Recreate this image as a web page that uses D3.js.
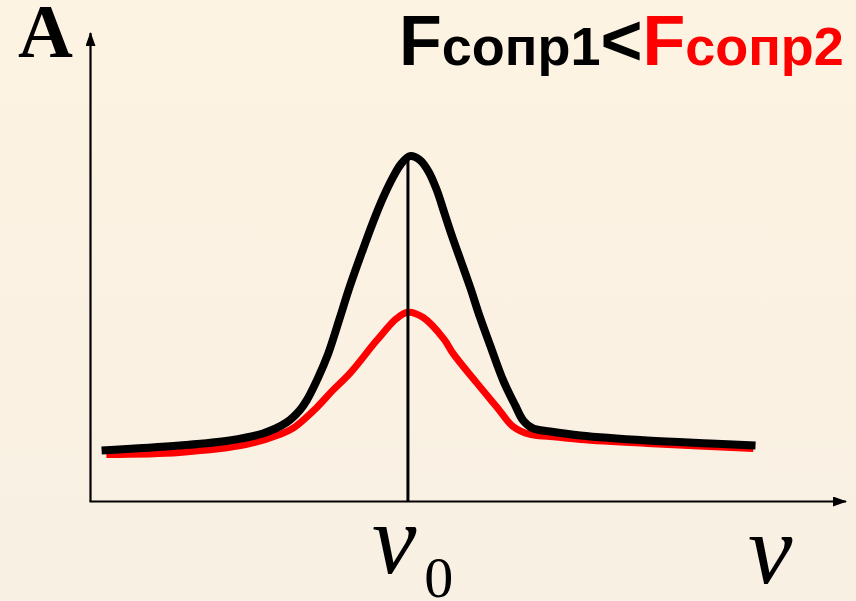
<!DOCTYPE html>
<html>
  <head>
    <meta charset="utf-8">
    <title>Resonance curves</title>
    <script src="https://cdn.jsdelivr.net/npm/d3@7"></script>
    <style>
      html, body { margin: 0; padding: 0; background: #fbf2e2; }
      svg { display: block; }
      .axis { stroke: #000; stroke-width: 2.2; fill: none; }
      .curve { fill: none; stroke-linejoin: round; stroke-linecap: butt; }
      .serif { font-family: "Liberation Serif", "Times New Roman", serif; }
      .sans { font-family: "Liberation Sans", Arial, sans-serif; font-weight: bold; }
    </style>
  </head>
  <body>
    <svg id="chart" width="856" height="601"></svg>

    <script>
      // data: frequency (nu / nu0) and amplitude
      nuLow = [0.035, 0.281, 0.438, 0.543, 0.618, 0.659, 0.681, 0.716, 0.748, 0.785, 0.817, 0.855, 0.890, 0.921, 0.953, 0.978, 1.006,
        1.038, 1.066, 1.091, 1.114, 1.139, 1.167, 1.196, 1.227, 1.259, 1.300, 1.338, 1.363, 1.394, 1.448, 1.543, 1.754, 1.953, 2.095];
      ampLow = [0.51, 0.56, 0.61, 0.68, 0.79, 0.91, 1.01, 1.23, 1.47, 1.83, 2.15, 2.49, 2.79, 3.03, 3.24, 3.37, 3.45,
        3.41, 3.29, 3.11, 2.89, 2.65, 2.40, 2.14, 1.84, 1.56, 1.21, 0.96, 0.81, 0.73, 0.70, 0.66, 0.61, 0.58, 0.56];

      nuHigh = [0.050, 0.281, 0.492, 0.596, 0.637, 0.713, 0.763, 0.817, 0.902, 0.965, 1.0, 1.047, 1.114, 1.142,
        1.218, 1.281, 1.331, 1.385, 1.448, 1.543, 1.754, 2.088];
      ampHigh = [0.47, 0.49, 0.57, 0.67, 0.73, 0.94, 1.11, 1.28, 1.61, 1.83, 1.89, 1.84, 1.62, 1.48,
        1.18, 0.94, 0.75, 0.67, 0.65, 0.62, 0.58, 0.53];

      nu0 = 1;
      xMax = 2.38;
      yMax = 4.68;

      chart = d3.select("#chart");
      width = 856;
      height = 601;

      // background
      defs = chart.append("defs");
      grad = defs.append("linearGradient")
        .attr("id", "bg")
        .attr("x1", 0).attr("y1", 0)
        .attr("x2", 0).attr("y2", 1);
      grad.append("stop").attr("offset", "0%").attr("stop-color", "#fdf3e2");
      grad.append("stop").attr("offset", "100%").attr("stop-color", "#f8f0e3");

      defs.append("marker")
        .attr("id", "arrow")
        .attr("viewBox", "0 0 14 10")
        .attr("refX", 13)
        .attr("refY", 5)
        .attr("markerWidth", 14)
        .attr("markerHeight", 10)
        .attr("markerUnits", "userSpaceOnUse")
        .attr("orient", "auto")
        .append("path")
          .attr("d", "M0,0 L14,5 L0,10 Z")
          .attr("fill", "#000");

      chart.append("rect")
        .attr("width", width)
        .attr("height", height)
        .attr("fill", "url(#bg)");

      // scales
      x = d3.scaleLinear()
        .domain([0, xMax])
        .range([90.5, 846]);
      y = d3.scaleLinear()
        .domain([0, yMax])
        .range([501.5, 33]);

      // axes
      chart.append("line")
        .attr("class", "axis")
        .attr("x1", x(0)).attr("y1", y(0))
        .attr("x2", x(0)).attr("y2", y(yMax))
        .attr("marker-end", "url(#arrow)");
      chart.append("line")
        .attr("class", "axis")
        .attr("x1", x(0) - 1).attr("y1", y(0))
        .attr("x2", x(xMax)).attr("y2", y(0))
        .attr("marker-end", "url(#arrow)");

      line = d3.line()
        .x(d => x(d[0]))
        .y(d => y(d[1]))
        .curve(d3.curveCatmullRom.alpha(0.5));

      chart.append("path")
        .attr("class", "curve")
        .attr("stroke", "#ff0000")
        .attr("stroke-width", 7)
        .attr("d", line(d3.zip(nuHigh, ampHigh)));

      chart.append("path")
        .attr("class", "curve")
        .attr("stroke", "#000")
        .attr("stroke-width", 8)
        .attr("d", line(d3.zip(nuLow, ampLow)));

      // resonance line
      chart.append("line")
        .attr("stroke", "#000")
        .attr("stroke-width", 3)
        .attr("x1", x(nu0)).attr("x2", x(nu0))
        .attr("y1", y(d3.max(ampLow)) - 2)
        .attr("y2", y(0));

      // labels
      chart.append("text")
        .attr("class", "serif")
        .attr("x", 18)
        .attr("y", 57)
        .attr("font-size", 76)
        .attr("font-weight", "bold")
        .text("A");

      title = chart.append("text")
        .attr("class", "sans")
        .attr("x", 399)
        .attr("y", 65);
      title.append("tspan").attr("font-size", 70).attr("fill", "#000").text("F");
      title.append("tspan").attr("font-size", 54).attr("fill", "#000").text("сопр1");
      title.append("tspan").attr("font-size", 72).attr("fill", "#000").text("<");
      title.append("tspan").attr("font-size", 70).attr("fill", "#ff0000").text("F");
      title.append("tspan").attr("font-size", 54).attr("fill", "#ff0000").text("сопр2");

      nuLabel = chart.append("text")
        .attr("class", "serif")
        .attr("x", x(nu0) - 36)
        .attr("y", 573);
      nuLabel.append("tspan")
        .attr("font-size", 100)
        .attr("font-style", "italic")
        .text("ν");
      nuLabel.append("tspan")
        .attr("font-size", 58)
        .attr("dx", 8)
        .attr("dy", 24)
        .text("0");

      chart.append("text")
        .attr("class", "serif")
        .attr("x", 748)
        .attr("y", 583)
        .attr("font-size", 100)
        .attr("font-style", "italic")
        .text("ν");
    </script>
  </body>
</html>
